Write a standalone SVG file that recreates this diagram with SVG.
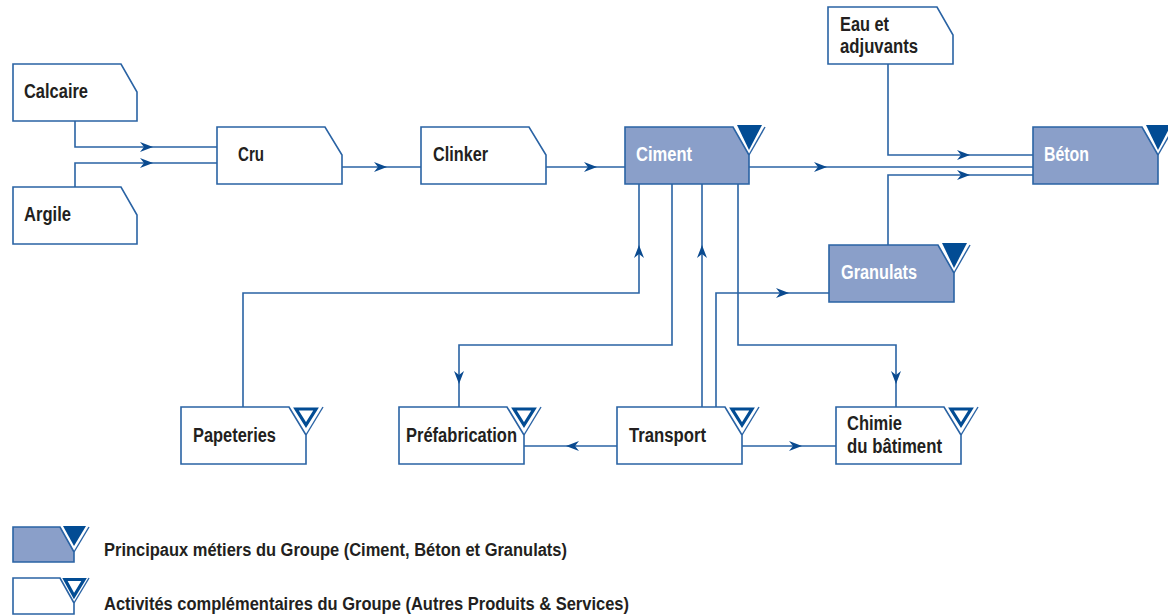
<svg xmlns="http://www.w3.org/2000/svg" xmlns:xlink="http://www.w3.org/1999/xlink" width="1168" height="615" viewBox="0 0 1168 615">
<style>
.box{fill:#ffffff;stroke:#2a63a4;stroke-width:1.6;stroke-linejoin:miter}
.main{fill:#8a9fc9}
.v{fill:none;stroke:#2a63a4;stroke-width:1.4}
.tri{fill:#024c94;stroke:none}
.htri{fill:none;stroke:#024c94;stroke-width:3.2;stroke-linejoin:miter}
.ln{fill:none;stroke:#2a63a4;stroke-width:1.6}
.t{font-family:"Liberation Sans Narrow","Arial Narrow","Liberation Sans",Arial,sans-serif;font-weight:bold;font-size:20px;fill:#231f20}
.w{fill:#ffffff}
.lg{font-size:18px}
</style>
<defs>
<path id="arr" d="M0,0 L-13,-5 L-9,0 L-13,5 Z" fill="#0a4a8f"/>
</defs>

<g id="connectors">
<path class="ln" d="M75,121 V147 H217"/>
<path class="ln" d="M75,187 V163 H217"/>
<path class="ln" d="M342,167 H421"/>
<path class="ln" d="M546,167 H625"/>
<path class="ln" d="M749,167 H1033"/>
<path class="ln" d="M888,64 V155 H1033"/>
<path class="ln" d="M888,245 V175 H1033"/>
<path class="ln" d="M243,407 V293 H639 V184"/>
<path class="ln" d="M672,184 V345 H459 V407"/>
<path class="ln" d="M702,407 V184"/>
<path class="ln" d="M716,407 V293 H829"/>
<path class="ln" d="M738,184 V345 H896 V407"/>
<path class="ln" d="M617,446 H524"/>
<path class="ln" d="M742,446 H836"/>
<use xlink:href="#arr" transform="translate(153,147)"/>
<use xlink:href="#arr" transform="translate(153,163)"/>
<use xlink:href="#arr" transform="translate(387,167)"/>
<use xlink:href="#arr" transform="translate(597,167)"/>
<use xlink:href="#arr" transform="translate(827,167)"/>
<use xlink:href="#arr" transform="translate(970,155)"/>
<use xlink:href="#arr" transform="translate(970,175)"/>
<use xlink:href="#arr" transform="translate(639,245) rotate(-90)"/>
<use xlink:href="#arr" transform="translate(702,245) rotate(-90)"/>
<use xlink:href="#arr" transform="translate(789,293)"/>
<use xlink:href="#arr" transform="translate(459,384) rotate(90)"/>
<use xlink:href="#arr" transform="translate(896,384) rotate(90)"/>
<use xlink:href="#arr" transform="translate(566,446) rotate(180)"/>
<use xlink:href="#arr" transform="translate(802,446)"/>
</g>

<g id="calcaire">
<path class="box" d="M13,64 H121 L137,92 V121 H13 Z"/>
<text class="t" x="24" y="98" textLength="64" lengthAdjust="spacingAndGlyphs">Calcaire</text>
</g>
<g id="argile">
<path class="box" d="M13,187 H121 L137,215 V244 H13 Z"/>
<text class="t" x="24" y="221" textLength="47" lengthAdjust="spacingAndGlyphs">Argile</text>
</g>
<g id="cru">
<path class="box" d="M217,127 H325 L342,155 V184 H217 Z"/>
<text class="t" x="238" y="161" textLength="26" lengthAdjust="spacingAndGlyphs">Cru</text>
</g>
<g id="clinker">
<path class="box" d="M421,127 H529 L546,155 V184 H421 Z"/>
<text class="t" x="433" y="161" textLength="55" lengthAdjust="spacingAndGlyphs">Clinker</text>
</g>
<g id="ciment">
<path class="box main" d="M625,127 H733 L749,155 V184 H625 Z"/>
<path class="v" d="M749,155 L765,127"/>
<path class="tri" d="M737,125 H762 L749,150 Z"/>
<text class="t w" x="636" y="161" textLength="56" lengthAdjust="spacingAndGlyphs">Ciment</text>
</g>
<g id="eau">
<path class="box" d="M828,7 H937 L953,35 V64 H828 Z"/>
<text class="t" x="840" y="31" textLength="49" lengthAdjust="spacingAndGlyphs">Eau et</text>
<text class="t" x="840" y="53" textLength="78" lengthAdjust="spacingAndGlyphs">adjuvants</text>
</g>
<g id="beton">
<path class="box main" d="M1033,127 H1142 L1158,155 V184 H1033 Z"/>
<path class="v" d="M1158,155 L1174,127"/>
<path class="tri" d="M1146,125 H1171 L1158,150 Z"/>
<text class="t w" x="1044" y="161" textLength="45" lengthAdjust="spacingAndGlyphs">Béton</text>
</g>
<g id="granulats">
<path class="box main" d="M829,245 H938 L954,273 V302 H829 Z"/>
<path class="v" d="M954,273 L970,245"/>
<path class="tri" d="M942,243 H967 L954,268 Z"/>
<text class="t w" x="841" y="279" textLength="76" lengthAdjust="spacingAndGlyphs">Granulats</text>
</g>
<g id="papeteries">
<path class="box" d="M181,407 H289 L306,435 V464 H181 Z"/>
<path class="v" d="M306,435 L323,407"/>
<path class="htri" d="M296,409 H316 L306,425 Z"/>
<text class="t" x="193" y="442" textLength="83" lengthAdjust="spacingAndGlyphs">Papeteries</text>
</g>
<g id="prefabrication">
<path class="box" d="M399,407 H507 L524,435 V464 H399 Z"/>
<path class="v" d="M524,435 L541,407"/>
<path class="htri" d="M514,409 H534 L524,425 Z"/>
<text class="t" x="406" y="442" textLength="111" lengthAdjust="spacingAndGlyphs">Préfabrication</text>
</g>
<g id="transport">
<path class="box" d="M617,407 H725 L742,435 V464 H617 Z"/>
<path class="v" d="M742,435 L759,407"/>
<path class="htri" d="M732,409 H752 L742,425 Z"/>
<text class="t" x="629" y="442" textLength="77" lengthAdjust="spacingAndGlyphs">Transport</text>
</g>
<g id="chimie">
<path class="box" d="M836,407 H944 L961,435 V464 H836 Z"/>
<path class="v" d="M961,435 L978,407"/>
<path class="htri" d="M951,409 H971 L961,425 Z"/>
<text class="t" x="847" y="430" textLength="55" lengthAdjust="spacingAndGlyphs">Chimie</text>
<text class="t" x="847" y="453" textLength="95" lengthAdjust="spacingAndGlyphs">du bâtiment</text>
</g>

<g id="legend-main">
<path class="box main" d="M13,527 H60 L74,552 V562 H13 Z"/>
<path class="v" d="M74,552 L89,527"/>
<path class="tri" d="M63,526 H86 L74,546 Z"/>
<text class="t lg" x="104" y="556" textLength="463" lengthAdjust="spacingAndGlyphs">Principaux métiers du Groupe (Ciment, Béton et Granulats)</text>
</g>
<g id="legend-comp">
<path class="box" d="M13,578 H60 L74,603 V614 H13 Z"/>
<path class="v" d="M74,603 L89,578"/>
<path class="htri" d="M65,579.5 H84 L74,596 Z"/>
<text class="t lg" x="104" y="610" textLength="525" lengthAdjust="spacingAndGlyphs">Activités complémentaires du Groupe (Autres Produits &amp; Services)</text>
</g>
</svg>
